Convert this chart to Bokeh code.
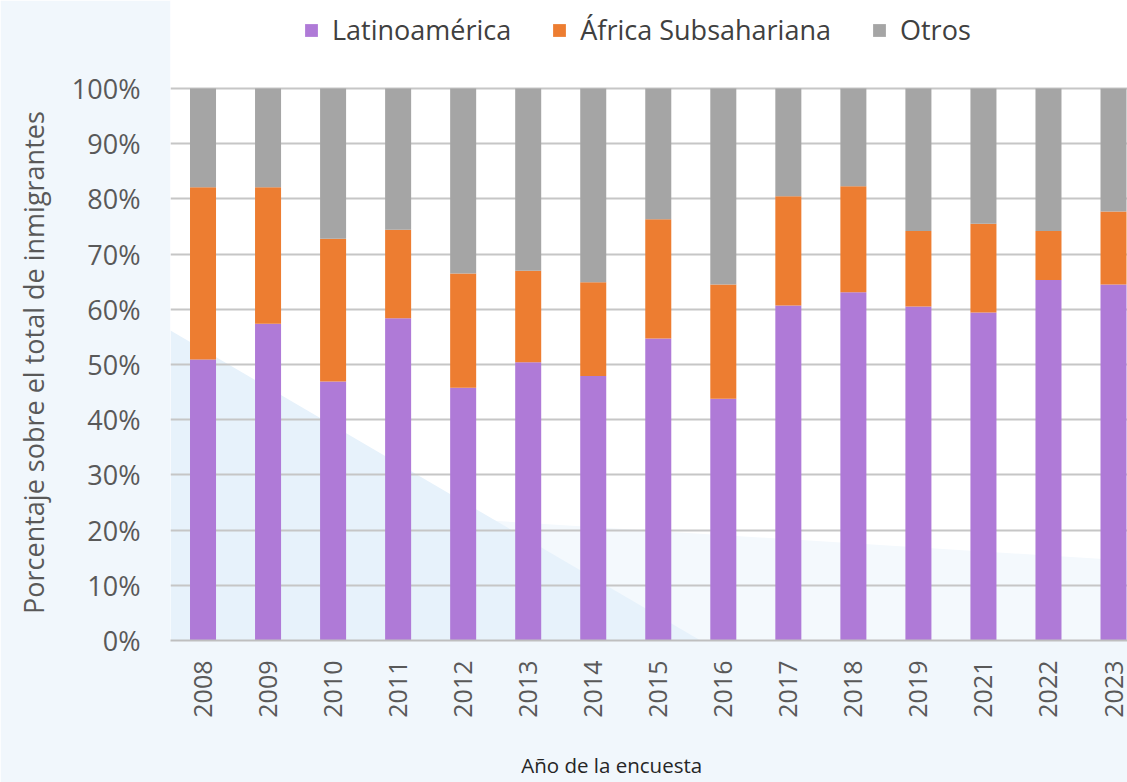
import math
from bokeh.plotting import figure
from bokeh.models import (ColumnDataSource, Range1d, FixedTicker, Legend, LegendItem,
                          PolyAnnotation, PrintfTickFormatter)
from bokeh.embed import file_html
from bokeh.resources import INLINE

years = ["2008", "2009", "2010", "2011", "2012", "2013", "2014", "2015",
         "2016", "2017", "2018", "2019", "2021", "2022", "2023"]
latinoamerica = [50.9, 57.4, 46.9, 58.4, 45.8, 50.4, 47.9, 54.7, 43.8, 60.7, 63.1, 60.5, 59.4, 65.3, 64.5]
africa_sub = [31.2, 24.7, 25.9, 16.0, 20.7, 16.6, 17.0, 21.6, 20.7, 19.8, 19.2, 13.7, 16.1, 8.9, 13.2]
otros = [17.9, 17.9, 27.2, 25.6, 33.5, 33.0, 35.1, 23.7, 35.5, 19.5, 17.7, 25.8, 24.5, 25.8, 22.3]
y_ticks = [0, 10, 20, 30, 40, 50, 60, 70, 80, 90, 100]

series = ["Latinoamérica", "África Subsahariana", "Otros"]
colors = ["#AF7AD7", "#ED7D31", "#A5A5A5"]

FONT = "Open Sans"

src = ColumnDataSource(dict(
    x=list(range(len(years))),
    lat=latinoamerica, afr=africa_sub, otr=otros,
))

# plot area reaches the top of the canvas so the legend (drawn inside it) stays visible;
# 100 % sits 88 px below the top
p = figure(width=1127, height=782, output_backend="svg", toolbar_location=None,
           x_range=Range1d(-0.5, 14.215), y_range=Range1d(0, 100 * 640 / 552),
           min_border_left=170, min_border_right=0, min_border_top=0, min_border_bottom=142)
p.outline_line_color = None
p.background_fill_color = "#ffffff"
p.border_fill_color = "#f1f7fc"

# light decorative background shapes inside the plot area (canvas pixels)
def poly(pts, color, alpha=1.0):
    a = PolyAnnotation(xs=[x for x, y in pts], ys=[y for x, y in pts],
                       xs_units="canvas", ys_units="canvas",
                       fill_color=color, fill_alpha=alpha, line_color=None, level="image")
    p.add_layout(a)

poly([(170, 500), (1127, 560), (1127, 640), (170, 640)], "#f4f9fd")
poly([(170, 330), (170, 640), (700, 640)], "#e7f2fb")

renderers = p.vbar_stack(["lat", "afr", "otr"], x="x", width=0.4, color=colors,
                         line_color=None, source=src)

legend = Legend(items=[LegendItem(label=s, renderers=[r]) for s, r in zip(series, renderers)],
                orientation="horizontal", location=(133, 592),
                glyph_width=16, glyph_height=16, label_standoff=13, spacing=40,
                padding=0, margin=0, border_line_color=None, background_fill_alpha=0,
                label_text_font=FONT, label_text_font_size="27px", label_text_color="#404040")
p.add_layout(legend)

# axes
p.xaxis.ticker = FixedTicker(ticks=list(range(len(years))))
p.xaxis.major_label_overrides = {i: y for i, y in enumerate(years)}
p.xaxis.major_label_orientation = math.pi / 2
p.xaxis.major_label_text_font = FONT
p.xaxis.major_label_text_font_size = "25px"
p.xaxis.major_label_text_color = "#595959"
p.xaxis.major_label_standoff = 20
p.xaxis.major_tick_out = 0
p.xaxis.major_tick_in = 0
p.xaxis.major_tick_line_color = None
p.xaxis.minor_tick_line_color = None
p.xaxis.axis_line_color = "#bfbfbf"
p.xaxis.axis_line_width = 2
# title sits left of the plot-area centre in the original; trailing no-break spaces shift it
p.xaxis.axis_label = "Año de la encuesta" + "\u00a0" * 14
p.xaxis.axis_label_text_font = FONT
p.xaxis.axis_label_text_font_size = "20.5px"
p.xaxis.axis_label_text_font_style = "normal"
p.xaxis.axis_label_text_color = "#262626"
p.xaxis.axis_label_standoff = 30

p.yaxis.ticker = FixedTicker(ticks=y_ticks)
p.yaxis.formatter = PrintfTickFormatter(format="%d%%")
p.yaxis.major_label_text_font = FONT
p.yaxis.major_label_text_font_size = "27px"
p.yaxis.major_label_text_color = "#595959"
p.yaxis.major_label_standoff = 30
p.yaxis.major_tick_out = 0
p.yaxis.major_tick_in = 0
p.yaxis.major_tick_line_color = None
p.yaxis.minor_tick_line_color = None
p.yaxis.axis_line_color = None
# trailing no-break spaces keep the title centred on the 0-100 % span
p.yaxis.axis_label = "Porcentaje sobre el total de inmigrantes" + "\u00a0" * 12
p.yaxis.axis_label_text_font = FONT
p.yaxis.axis_label_text_font_size = "27px"
p.yaxis.axis_label_text_font_style = "normal"
p.yaxis.axis_label_text_color = "#595959"
p.yaxis.axis_label_standoff = 17

p.xgrid.grid_line_color = None
p.ygrid.grid_line_color = "#c6c6c6"
p.ygrid.grid_line_width = 2

open("out.html", "w").write(file_html(p, INLINE))
